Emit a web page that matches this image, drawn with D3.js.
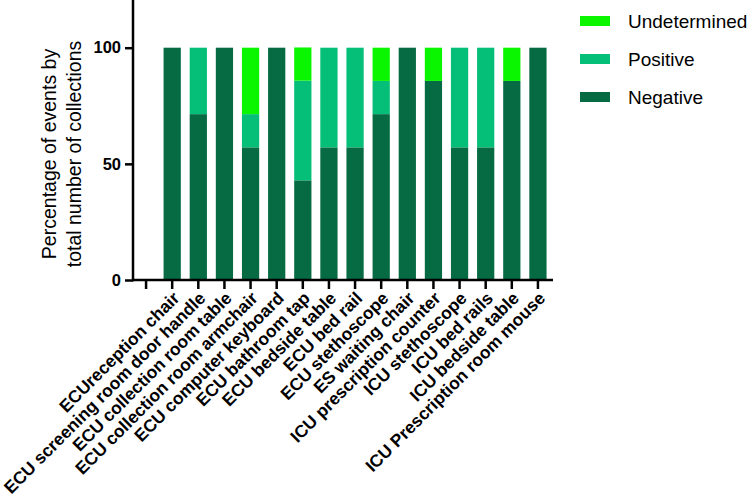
<!DOCTYPE html>
<html>
<head>
<meta charset="utf-8">
<script src="https://cdn.jsdelivr.net/npm/d3@7"></script>
<style>
  body { margin: 0; background: #fff; }
  text { font-family: "Liberation Sans", Arial, sans-serif; }
</style>
</head>
<body>
<svg width="749" height="498"></svg>
<script>
// categories (first slot is empty in the original)
const sites = ["", "ECUreception chair", "ECU screening room door handle", "ECU collection room table",
  "ECU collection room armchair", "ECU computer keyboard", "ECU bathroom tap", "ECU bedside table",
  "ECU bed rail", "ECU stethoscope", "ES waiting chair", "ICU prescription counter",
  "ICU stethoscope", "ICU bed rails", "ICU bedside table", "ICU Prescription room mouse"];
const negative     = [null, 100, 71.4, 100, 57.1, 100, 42.9, 57.1, 57.1, 71.4, 100, 85.7, 57.1, 57.1, 85.7, 100];
const positive     = [null, 0, 28.6, 0, 14.3, 0, 42.9, 42.9, 42.9, 14.3, 0, 0, 42.9, 42.9, 0, 0];
const undetermined = [null, 0, 0, 0, 28.6, 0, 14.3, 0, 0, 14.3, 0, 14.3, 0, 0, 14.3, 0];
const seriesNames = ["Negative", "Positive", "Undetermined"];
const colors = {Negative: "#066a43", Positive: "#05be77", Undetermined: "#0af500"};
const yTicks = [0, 50, 100];

const rows = sites.map((s, i) => ({site: s, Negative: negative[i] || 0, Positive: positive[i] || 0, Undetermined: undetermined[i] || 0}));

const svg = d3.select("svg");
const x0 = 133, x1 = 551, yBase = 280;

const x = d3.scaleBand().domain(sites.map((s, i) => i)).range([x0, x1]).paddingInner(0.34).paddingOuter(0.17);
const y = d3.scaleLinear().domain([0, 100]).range([yBase, 47.7]);

const stack = d3.stack().keys(seriesNames)(rows);

svg.append("g").selectAll("g").data(stack).join("g")
  .attr("fill", d => colors[d.key])
  .selectAll("rect").data(d => d.map((v, i) => ({v, i}))).join("rect")
  .filter(d => d.v[1] - d.v[0] > 0)
  .attr("x", d => x(d.i))
  .attr("width", x.bandwidth())
  .attr("y", d => y(d.v[1]))
  .attr("height", d => y(d.v[0]) - y(d.v[1]));

// y axis
const yAxis = svg.append("g").attr("transform", `translate(${x0},0)`)
  .call(d3.axisLeft(y).tickValues(yTicks).tickSize(8).tickPadding(4));
yAxis.select(".domain").remove();
yAxis.append("line").attr("x1", 0).attr("x2", 0).attr("y1", 0).attr("y2", yBase + 1.2)
  .attr("stroke", "#000").attr("stroke-width", 2.5);
yAxis.selectAll(".tick line").attr("stroke-width", 2.5);
yAxis.selectAll(".tick text").attr("font-size", 16.5).attr("font-weight", "bold").attr("fill", "#000")
  .style("font-family", "'Liberation Sans', Arial, sans-serif");

// x axis
const xAxis = svg.append("g").attr("transform", `translate(0,${yBase})`)
  .call(d3.axisBottom(x).tickSize(9).tickFormat(i => sites[i]));
xAxis.select(".domain").remove();
xAxis.append("line").attr("x1", x0 - 1).attr("x2", x1 + 2).attr("y1", 0).attr("y2", 0)
  .attr("stroke", "#000").attr("stroke-width", 2.5);
xAxis.selectAll(".tick line").attr("stroke-width", 2.5);
xAxis.selectAll(".tick text")
  .attr("font-size", 17.4).attr("font-weight", "bold").attr("fill", "#000")
  .style("font-family", "'Liberation Sans', Arial, sans-serif")
  .attr("text-anchor", "end")
  .attr("transform", "translate(4,15) rotate(-45)")
  .attr("dy", "0.35em").attr("y", 0);

// y title
const yt = svg.append("text")
  .attr("transform", "translate(0,154) rotate(-90)")
  .attr("text-anchor", "middle").attr("font-size", 19.5).attr("fill", "#000");
yt.append("tspan").attr("x", 0).attr("y", 56).text("Percentage of events by");
yt.append("tspan").attr("x", 0).attr("y", 81).text("total number of collections");

// legend
const legendOrder = ["Undetermined", "Positive", "Negative"];
const lg = svg.append("g");
legendOrder.forEach((k, i) => {
  const yy = 21 + i * 38;
  lg.append("rect").attr("x", 580).attr("y", yy - 5).attr("width", 30).attr("height", 10).attr("fill", colors[k]);
  lg.append("text").attr("x", 628).attr("y", yy).attr("dy", "0.35em").attr("font-size", 19).attr("fill", "#000").text(k);
});
</script>
</body>
</html>
